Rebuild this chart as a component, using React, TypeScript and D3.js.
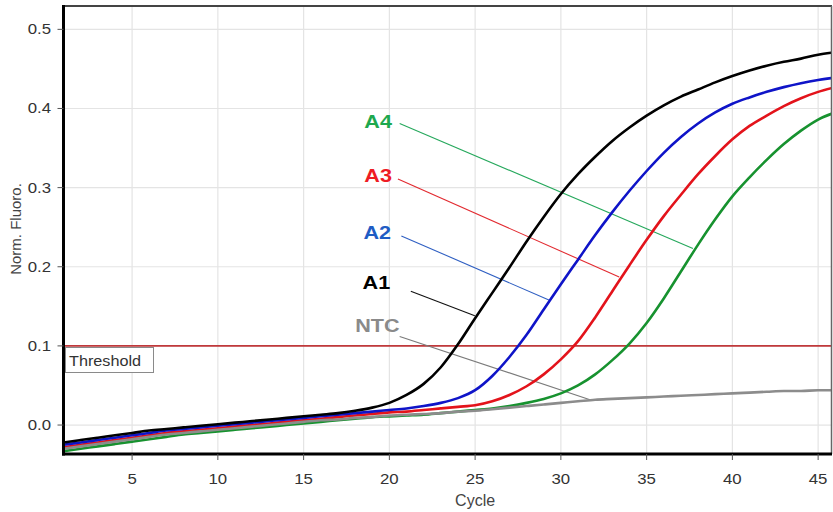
import React from "react";
import * as d3 from "d3";

const cycles = d3.range(1, 47);

const a1 = [-0.022,-0.019,-0.016,-0.013,-0.010,-0.007,-0.005,-0.003,-0.001,0.001,0.003,0.005,0.007,0.009,0.011,0.013,0.015,0.018,0.022,0.028,0.038,0.052,0.073,0.102,0.135,0.167,0.199,0.232,0.263,0.292,0.317,0.339,0.359,0.376,0.391,0.404,0.415,0.424,0.433,0.441,0.448,0.454,0.459,0.463,0.468,0.471];
const a2 = [-0.025,-0.022,-0.019,-0.016,-0.013,-0.010,-0.007,-0.005,-0.003,-0.001,0.001,0.003,0.005,0.007,0.009,0.011,0.013,0.015,0.017,0.019,0.021,0.024,0.028,0.034,0.044,0.062,0.086,0.114,0.146,0.178,0.209,0.240,0.269,0.296,0.321,0.344,0.364,0.381,0.395,0.406,0.414,0.421,0.427,0.432,0.436,0.439];
const a3 = [-0.028,-0.025,-0.022,-0.019,-0.016,-0.013,-0.010,-0.008,-0.006,-0.004,-0.002,0.000,0.002,0.004,0.006,0.008,0.010,0.012,0.014,0.016,0.017,0.019,0.021,0.023,0.025,0.030,0.038,0.049,0.064,0.083,0.106,0.136,0.169,0.202,0.234,0.264,0.291,0.317,0.340,0.361,0.378,0.391,0.403,0.413,0.421,0.427];
const a4 = [-0.033,-0.030,-0.027,-0.024,-0.021,-0.018,-0.015,-0.012,-0.010,-0.008,-0.006,-0.004,-0.002,0.000,0.002,0.004,0.006,0.008,0.010,0.011,0.012,0.013,0.015,0.017,0.019,0.021,0.024,0.028,0.033,0.040,0.050,0.064,0.082,0.103,0.129,0.160,0.194,0.228,0.260,0.289,0.313,0.335,0.355,0.372,0.386,0.395];
const ntc = [-0.030,-0.027,-0.024,-0.021,-0.018,-0.015,-0.012,-0.010,-0.008,-0.006,-0.004,-0.002,0.000,0.002,0.004,0.006,0.007,0.009,0.010,0.012,0.013,0.014,0.015,0.017,0.018,0.020,0.022,0.024,0.026,0.028,0.030,0.032,0.033,0.034,0.035,0.036,0.037,0.038,0.039,0.040,0.041,0.042,0.043,0.043,0.044,0.044];

const xTicks = [5, 10, 15, 20, 25, 30, 35, 40, 45];
const yTicks = [0.0, 0.1, 0.2, 0.3, 0.4, 0.5];
const threshold = 0.1;

const seriesNames = ["A4", "A3", "A2", "A1", "NTC"];
const seriesValues = [a4, a3, a2, a1, ntc];
const lineColors = ["#17922f", "#e3131b", "#0f14c8", "#000000", "#8c8c8c"];
const labelColors = ["#1ea84e", "#ee1c24", "#1f5cc4", "#000000", "#8a8a8a"];
const leaderColors = ["#26a85c", "#e22a30", "#2f5fc2", "#111111", "#7a7a7a"];
// label anchor [cycle, value], leader start [cycle, value], leader target [cycle, value]
const labelPos = [[20.15, 0.375], [20.15, 0.307], [20.1, 0.235], [20.05, 0.172], [20.6, 0.117]];
const leaderStart = [[20.6, 0.381], [20.5, 0.311], [20.7, 0.239], [21.25, 0.169], [20.6, 0.112]];
const leaderEnd = [[37.7, 0.223], [33.4, 0.187], [29.3, 0.158], [24.98, 0.138], [31.7, 0.032]];

const W = 833, H = 512;
const left = 63.5, right = 831, top = 6, bottom = 454;
const FONT = "'Liberation Sans', Arial, sans-serif";

export default function App() {
  const x = d3.scaleLinear().domain([1, 45.75]).range([left, right]);
  const y = d3.scaleLinear().domain([-0.0366, 0.5295]).range([bottom, top]);
  const line = d3.line<number>().x((_, i) => x(cycles[i])).y((d) => y(d)).curve(d3.curveMonotoneX);

  return (
    <svg width={W} height={H} style={{ position: "absolute", left: 0, top: 0, background: "#fff" }}>
      <defs>
        <clipPath id="plotclip">
          <rect x={left} y={top} width={right - left} height={bottom - top} />
        </clipPath>
      </defs>
      <rect x={0} y={0} width={W} height={H} fill="#fff" />
      {/* grid */}
      {xTicks.map((t) => (
        <line key={"gx" + t} x1={x(t)} x2={x(t)} y1={top} y2={bottom} stroke="#e4e4e4" strokeWidth={1.2} />
      ))}
      {yTicks.map((t) => (
        <line key={"gy" + t} x1={left} x2={right} y1={y(t)} y2={y(t)} stroke="#e4e4e4" strokeWidth={1.2} />
      ))}
      {/* threshold */}
      <line x1={left} x2={right} y1={y(threshold)} y2={y(threshold)} stroke="#c0393b" strokeWidth={1.6} />
      {/* leader lines */}
      {seriesNames.map((n, i) => (
        <line key={"ld" + n} x1={x(leaderStart[i][0])} y1={y(leaderStart[i][1])} x2={x(leaderEnd[i][0])} y2={y(leaderEnd[i][1])} stroke={leaderColors[i]} strokeWidth={1.1} />
      ))}
      {/* curves */}
      <g clipPath="url(#plotclip)">
        {seriesValues.map((vals, i) => (
          <path key={"c" + i} d={line(vals) || ""} fill="none" stroke={lineColors[i]} strokeWidth={2.6} strokeLinejoin="round" />
        ))}
      </g>
      {/* threshold label */}
      <rect x={65.5} y={347.5} width={88} height={25} fill="#fff" stroke="#8a8a8a" strokeWidth={1} />
      <text x={69} y={366} fontFamily={FONT} fontSize={15} fill="#333" transform="translate(69,366) scale(1.08,1) translate(-69,-366)">Threshold</text>
      {/* series labels */}
      {seriesNames.map((n, i) => {
        const lx = x(labelPos[i][0]);
        const ly = y(labelPos[i][1]);
        return (
          <text key={"lb" + n} x={lx} y={ly} textAnchor="end" fontFamily={FONT} fontWeight="bold" fontSize={18} fill={labelColors[i]}
            transform={`translate(${lx},${ly}) scale(1.2,1) translate(${-lx},${-ly})`}>{n}</text>
        );
      })}
      {/* axes frame */}
      <line x1={left} x2={right + 1} y1={top} y2={top} stroke="#444" strokeWidth={2} />
      <line x1={right + 0.5} x2={right + 0.5} y1={top} y2={bottom} stroke="#666" strokeWidth={1.5} />
      <line x1={left} x2={left} y1={top - 1} y2={bottom + 1.5} stroke="#000" strokeWidth={3} />
      <line x1={left - 1.5} x2={right + 1} y1={bottom} y2={bottom} stroke="#000" strokeWidth={3} />
      {/* y ticks */}
      {yTicks.map((t) => (
        <g key={"yt" + t}>
          <line x1={left - 6} x2={left} y1={y(t)} y2={y(t)} stroke="#555" strokeWidth={1} />
          <text x={51} y={y(t) + 5} textAnchor="end" fontFamily={FONT} fontSize={15} fill="#333"
            transform={`translate(51,${y(t) + 5}) scale(1.12,1) translate(-51,${-(y(t) + 5)})`}>{d3.format(".1f")(t)}</text>
        </g>
      ))}
      {/* x ticks */}
      {xTicks.map((t) => (
        <g key={"xt" + t}>
          <line x1={x(t)} x2={x(t)} y1={bottom} y2={bottom + 6} stroke="#555" strokeWidth={1} />
          <text x={x(t)} y={484} textAnchor="middle" fontFamily={FONT} fontSize={15} fill="#333"
            transform={`translate(${x(t)},484) scale(1.12,1) translate(${-x(t)},-484)`}>{t}</text>
        </g>
      ))}
      <text x={x(25)} y={506} textAnchor="middle" fontFamily={FONT} fontSize={16} fill="#444">Cycle</text>
      <text x={0} y={0} textAnchor="middle" fontFamily={FONT} fontSize={15} fill="#444"
        transform={`translate(21,229) rotate(-90)`}>Norm. Fluoro.</text>
    </svg>
  );
}
